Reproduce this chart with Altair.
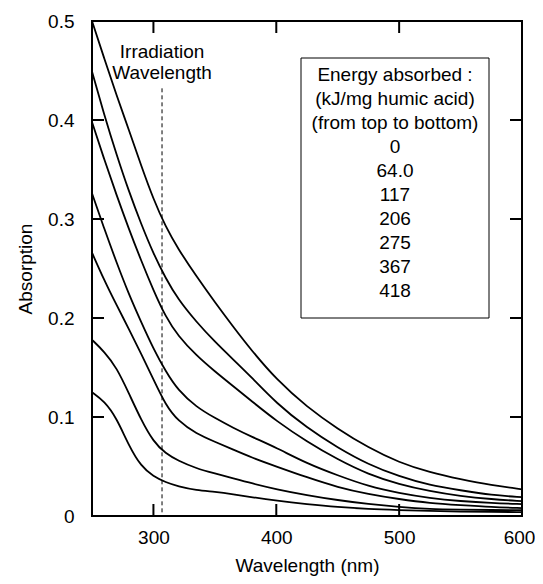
import altair as alt
import pandas as pd

# ---- data ----
wavelengths = [250, 260, 270, 280, 290, 300, 310, 320, 335, 350, 365, 380,
               400, 425, 450, 475, 500, 525, 550, 575, 600]

energies = ["0", "64.0", "117", "206", "275", "367", "418"]

s_0 = [0.500, 0.462, 0.425, 0.390, 0.354, 0.320, 0.292, 0.270, 0.242, 0.216, 0.191, 0.167,
       0.138, 0.110, 0.088, 0.069, 0.054, 0.044, 0.037, 0.031, 0.027]
s_64 = [0.449, 0.405, 0.365, 0.328, 0.295, 0.265, 0.240, 0.219, 0.196, 0.176, 0.158, 0.140,
        0.114, 0.089, 0.069, 0.052, 0.040, 0.031, 0.026, 0.021, 0.019]
s_117 = [0.398, 0.360, 0.324, 0.290, 0.258, 0.228, 0.201, 0.182, 0.162, 0.146, 0.131, 0.116,
         0.096, 0.075, 0.057, 0.042, 0.032, 0.025, 0.020, 0.017, 0.015]
s_206 = [0.326, 0.290, 0.256, 0.224, 0.196, 0.169, 0.146, 0.127, 0.110, 0.099, 0.089, 0.080,
         0.069, 0.053, 0.041, 0.030, 0.023, 0.018, 0.015, 0.013, 0.012]
s_275 = [0.266, 0.238, 0.213, 0.189, 0.164, 0.138, 0.112, 0.096, 0.083, 0.075, 0.067, 0.059,
         0.050, 0.039, 0.029, 0.022, 0.017, 0.013, 0.011, 0.009, 0.008]
s_367 = [0.178, 0.166, 0.150, 0.124, 0.097, 0.075, 0.063, 0.056, 0.048, 0.043, 0.038, 0.033,
         0.027, 0.021, 0.016, 0.012, 0.009, 0.007, 0.0065, 0.006, 0.006]
s_418 = [0.125, 0.116, 0.099, 0.071, 0.050, 0.040, 0.034, 0.030, 0.026, 0.0245, 0.022, 0.019,
         0.0155, 0.012, 0.009, 0.007, 0.006, 0.005, 0.0045, 0.004, 0.004]

series = [s_0, s_64, s_117, s_206, s_275, s_367, s_418]

legend_header = ["Energy absorbed :", "(kJ/mg humic acid)", "(from top to bottom)"]
irradiation_label = ["Irradiation", "Wavelength"]
irradiation_wavelength = 307
irradiation_top = 0.432

x_ticks = [300, 400, 500, 600]
y_ticks = [0, 0.1, 0.2, 0.3, 0.4, 0.5]
x_inner_ticks = [300, 400, 500]
y_inner_ticks = [0.1, 0.2, 0.3, 0.4]

# ---- build tables ----
rows = []
for e, vals in zip(energies, series):
    for w, v in zip(wavelengths, vals):
        rows.append({"energy": e, "wavelength": w, "absorption": v})
df = pd.DataFrame(rows)

W, H = 430, 495
FONT = "Liberation Sans"
FS = 19

xscale = alt.Scale(domain=[250, 600], nice=False, zero=False)
yscale = alt.Scale(domain=[0, 0.5], nice=False, zero=False)

lines = alt.Chart(df).mark_line(color="black", strokeWidth=1.8, interpolate="basis").encode(
    x=alt.X("wavelength:Q", scale=xscale,
            axis=alt.Axis(values=x_ticks, title="Wavelength (nm)", tickSize=0, domain=False,
                          grid=False, labelPadding=12, titlePadding=9, labelFlush=False,
                          labelOffset=alt.condition("datum.value == 600", alt.value(-3), alt.value(0)))),
    y=alt.Y("absorption:Q", scale=yscale,
            axis=alt.Axis(values=y_ticks, title="Absorption", tickSize=0, domain=False,
                          grid=False, labelPadding=18, titlePadding=12, labelFlush=False,
                          labelExpr="datum.value == 0 ? '0' : format(datum.value, '.1f')")),
    detail="energy:N",
)

xt = pd.DataFrame({"w": x_inner_ticks})
yt = pd.DataFrame({"v": y_inner_ticks})
TL = 12
bottom_ticks = alt.Chart(xt).mark_rule(color="black", strokeWidth=2).encode(
    x=alt.X("w:Q", scale=xscale), y=alt.value(H), y2=alt.value(H - TL))
top_ticks = alt.Chart(xt).mark_rule(color="black", strokeWidth=2).encode(
    x=alt.X("w:Q", scale=xscale), y=alt.value(0), y2=alt.value(TL))
left_ticks = alt.Chart(yt).mark_rule(color="black", strokeWidth=2).encode(
    y=alt.Y("v:Q", scale=yscale), x=alt.value(0), x2=alt.value(TL))
right_ticks = alt.Chart(yt).mark_rule(color="black", strokeWidth=2).encode(
    y=alt.Y("v:Q", scale=yscale), x=alt.value(W), x2=alt.value(W - TL))

irr = pd.DataFrame({"w": [irradiation_wavelength], "top": [irradiation_top]})
dashed = alt.Chart(irr).mark_rule(color="black", strokeWidth=1, strokeDash=[4, 3]).encode(
    x=alt.X("w:Q", scale=xscale), y=alt.Y("top:Q", scale=yscale), y2=alt.datum(0))

irr_text = alt.Chart(irr).mark_text(font=FONT, fontSize=FS, align="center", baseline="top",
                                    lineHeight=21, color="black").encode(
    x=alt.X("w:Q", scale=xscale), y=alt.value(22), text=alt.value(irradiation_label))

legend_lines = legend_header + energies
box = alt.Chart(irr).mark_rect(fill="white", stroke="black", strokeWidth=1).encode(
    x=alt.value(209), x2=alt.value(397), y=alt.value(37), y2=alt.value(297))
legend_text = alt.Chart(irr).mark_text(font=FONT, fontSize=FS, align="center", baseline="top",
                                       lineHeight=24, color="black").encode(
    x=alt.value(303), y=alt.value(45), text=alt.value(legend_lines))

chart = alt.layer(lines, dashed, bottom_ticks, top_ticks, left_ticks, right_ticks,
                  irr_text, box, legend_text).properties(
    width=W, height=H,
    background="white",
    padding={"left": 84, "top": 13, "right": 13, "bottom": 60},
    autosize=alt.AutoSizeParams(type="none"),
).configure_view(stroke="black", strokeWidth=2).configure_axis(
    labelFont=FONT, titleFont=FONT, labelFontSize=FS, titleFontSize=FS,
    labelColor="black", titleColor="black", titleFontWeight="normal",
)

chart.save("out.html", embed_options={"renderer": "svg", "actions": False})
